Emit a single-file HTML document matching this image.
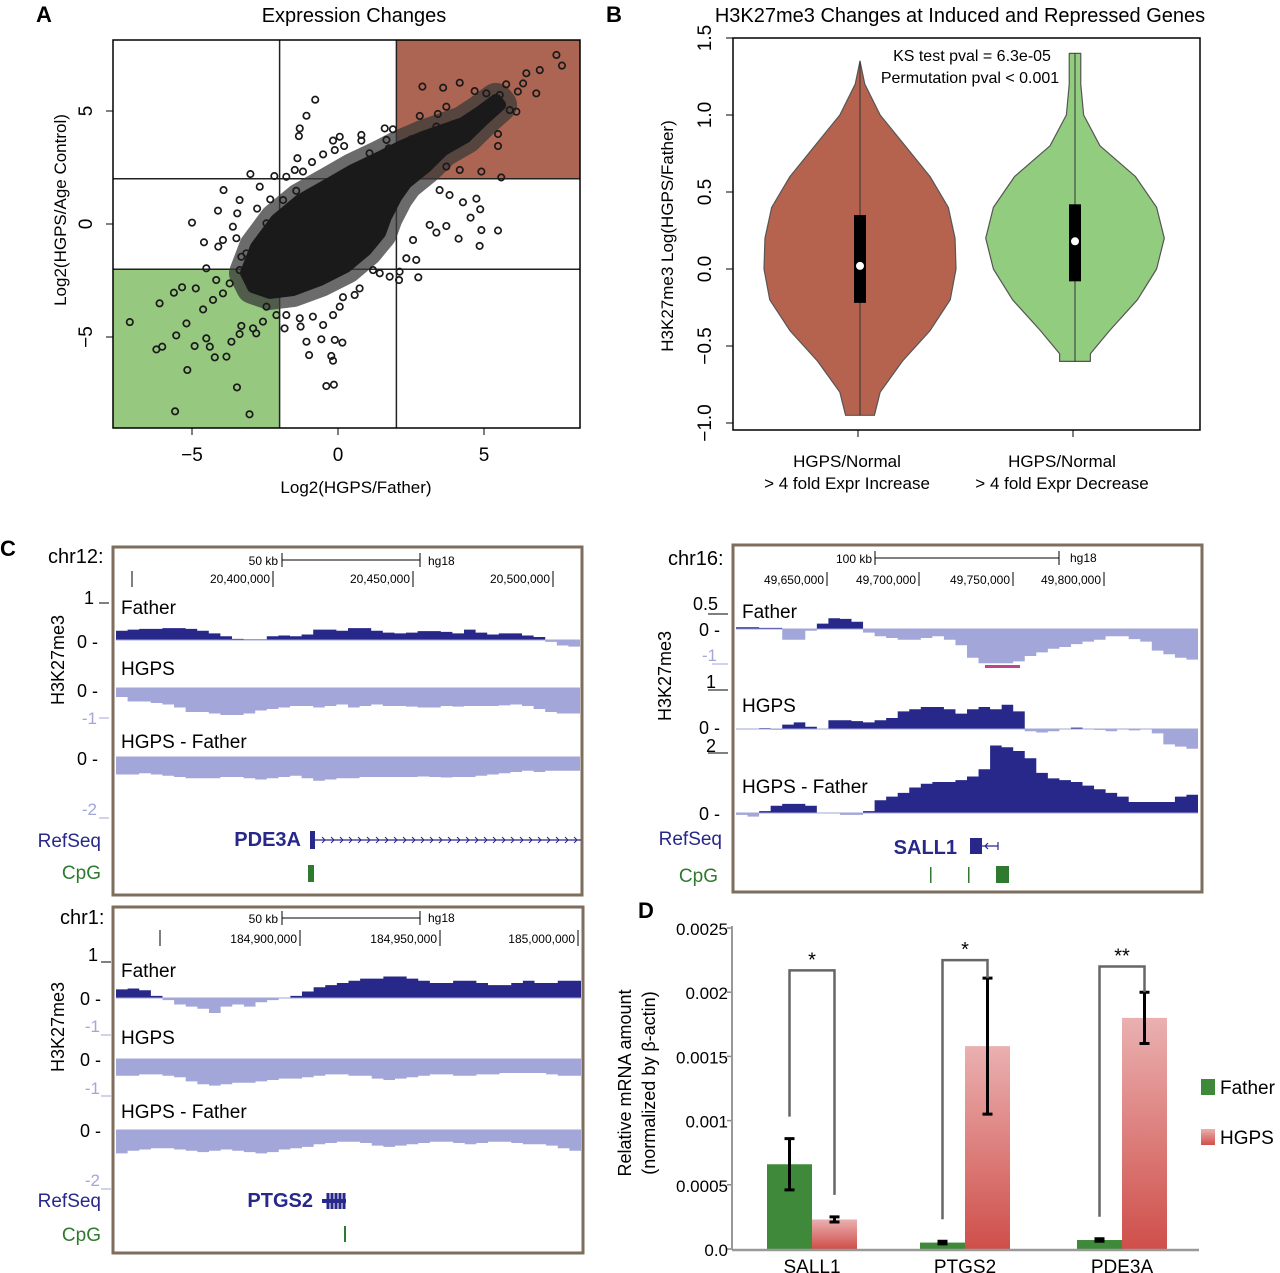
<!DOCTYPE html>
<html><head><meta charset="utf-8"><style>
html,body{margin:0;padding:0;background:#fff}
svg{display:block;font-family:"Liberation Sans",Arial,sans-serif}
</style></head><body>
<svg id="fig" width="1280" height="1273" viewBox="0 0 1280 1273" xmlns="http://www.w3.org/2000/svg">
<g id="gA"></g>
<g id="gB"></g>
<g id="gC"></g>
<g id="gD"></g>
</svg>
<script>
// ---------- Panel A data ----------
const scatterX=[-5.00,-4.59,-4.10,-4.11,-3.92,-3.37,-3.45,-3.60,-3.48,-3.31,-3.94,-3.00,-2.77,-2.68,-2.18,-2.32,-1.88,-1.77,-1.48,-1.20,-1.39,-1.31,-1.34,-1.08,-0.78,-0.89,-0.51,-0.17,0.06,0.21,-0.11,0.80,0.80,1.08,1.60,1.88,1.66,1.74,-1.43,-0.86,-0.40,0.29,2.80,3.42,3.37,3.71,4.17,3.60,2.89,2.51,2.11,3.71,4.17,4.91,5.48,5.48,5.59,5.76,6.16,6.11,5.88,6.45,6.91,6.79,6.34,7.48,7.67,5.08,4.68,5.54,3.48,3.82,4.28,4.74,4.87,4.54,4.91,5.48,4.85,4.13,3.37,3.71,3.14,2.57,2.68,2.34,2.09,2.75,2.11,1.77,1.43,1.20,0.74,0.57,0.17,0.06,-0.17,-0.51,-0.86,-1.08,-0.57,-0.11,0.15,-0.99,-0.23,-0.17,-0.40,-0.14,-1.31,-1.28,-1.83,-1.77,-2.11,-2.45,-2.57,-2.80,-2.91,-3.31,-3.37,-3.65,-3.82,-4.22,-4.39,-4.51,-4.91,-5.19,-5.54,-6.11,-5.62,-5.34,-4.87,-6.22,-6.02,-7.13,-5.16,-3.46,-5.58,-3.03,-4.62,-4.28,-3.94,-3.71,-4.17,-4.51,-3.37,-3.14,-2.68,-2.45];
const scatterY=[0.06,-0.81,-1.00,0.59,1.50,1.06,0.47,-0.12,-0.63,-1.45,-0.71,2.21,0.68,1.65,2.12,1.09,1.06,2.09,2.39,2.32,2.91,4.23,3.89,4.79,5.50,2.74,3.08,3.69,3.86,3.45,3.27,3.94,3.69,3.13,4.23,4.19,3.72,3.35,1.47,1.43,1.65,1.80,4.78,4.87,4.31,5.19,6.25,6.03,6.08,3.75,3.27,2.54,2.39,2.32,3.98,3.45,2.06,6.18,5.86,4.97,5.04,6.67,6.81,5.78,6.22,7.48,7.01,5.78,5.88,5.71,1.50,1.28,0.96,1.12,0.65,0.28,-0.27,-0.29,-0.97,-0.65,-0.38,-0.09,-0.04,-0.71,-1.59,-1.52,-2.48,-2.36,-2.11,-2.33,-2.18,-2.04,-2.85,-3.14,-3.24,-3.66,-4.03,-4.47,-4.10,-5.21,-5.10,-5.13,-5.25,-5.80,-5.84,-6.05,-7.17,-7.11,-4.17,-4.54,-4.62,-4.03,-4.03,-3.66,-4.32,-4.84,-4.62,-4.51,-4.87,-5.21,-5.87,-5.90,-5.43,-5.06,-5.40,-4.40,-4.93,-3.51,-3.04,-2.80,-2.85,-5.55,-5.43,-4.34,-6.46,-7.23,-8.29,-8.42,-3.78,-3.36,-3.07,-2.63,-2.48,-1.96,-2.04,-1.30,-0.71,0.03];
const blobX=[-3.15,-2.81,-2.12,-1.30,-0.27,0.51,1.44,2.12,2.91,3.60,4.28,4.86,5.41,5.55,4.97,4.38,3.60,3.01,2.33,1.99,1.64,1.44,0.96,0.27,-0.62,-1.54,-2.33,-2.91];
const blobY=[-2.17,-1.02,0.18,1.06,1.81,2.39,2.96,3.41,3.85,4.16,4.47,4.96,5.49,5.27,4.60,3.85,3.27,2.52,1.81,1.19,0.31,-0.40,-1.15,-1.90,-2.48,-2.92,-3.05,-2.79];
const aTicksX=[-5,0,5];
const aTicksY=[-5,0,5];
// ---------- Panel B data ----------
const violinLevels=[[1.35,1.2,1.0,0.8,0.6,0.4,0.2,0.0,-0.2,-0.4,-0.6,-0.8,-0.95],[1.4,1.35,1.2,1.0,0.8,0.6,0.4,0.2,0.0,-0.2,-0.4,-0.55,-0.6]];
const violinDens=[[0.0,0.05,0.21,0.47,0.73,0.92,0.99,1.0,0.94,0.73,0.44,0.21,0.15],[0.06,0.06,0.06,0.09,0.26,0.63,0.85,0.93,0.85,0.65,0.36,0.16,0.16]];
const boxQ1=[-0.22,-0.08], boxQ3=[0.35,0.42], boxMed=[0.02,0.18];
const bTicks=[-1.0,-0.5,0.0,0.5,1.0,1.5];
const bCats=["HGPS/Normal|> 4 fold Expr Increase","HGPS/Normal|> 4 fold Expr Decrease"];
// ---------- Panel C data ----------
const c1Father=[0.25,0.28,0.3,0.3,0.32,0.32,0.3,0.25,0.18,0.1,0.03,0.02,0.02,0.1,0.12,0.1,0.15,0.28,0.28,0.25,0.32,0.32,0.25,0.2,0.18,0.2,0.24,0.24,0.22,0.18,0.28,0.2,0.15,0.18,0.18,0.12,0.08,-0.05,-0.15,-0.18];
const c1Hgps=[-0.3,-0.45,-0.45,-0.5,-0.55,-0.65,-0.8,-0.8,-0.85,-0.9,-0.9,-0.85,-0.75,-0.7,-0.65,-0.6,-0.6,-0.65,-0.6,-0.55,-0.65,-0.6,-0.55,-0.6,-0.6,-0.62,-0.65,-0.65,-0.6,-0.62,-0.6,-0.6,-0.6,-0.58,-0.55,-0.6,-0.7,-0.8,-0.85,-0.85];
const c1Diff=[-0.7,-0.7,-0.65,-0.7,-0.75,-0.8,-0.85,-0.85,-0.85,-0.8,-0.8,-0.85,-0.9,-0.85,-0.8,-0.75,-0.85,-0.95,-0.9,-0.85,-0.85,-0.8,-0.8,-0.8,-0.8,-0.8,-0.78,-0.8,-0.82,-0.8,-0.8,-0.75,-0.7,-0.65,-0.6,-0.55,-0.6,-0.55,-0.55,-0.55];
const c2Father=[0.05,0.05,0.03,0.03,-0.3,-0.3,-0.05,0.15,0.3,0.28,0.2,-0.1,-0.2,-0.25,-0.3,-0.3,-0.25,-0.2,-0.3,-0.45,-0.8,-0.95,-0.95,-0.95,-0.9,-0.75,-0.65,-0.55,-0.5,-0.42,-0.35,-0.3,-0.2,-0.2,-0.28,-0.35,-0.6,-0.7,-0.8,-0.85];
const c2Hgps=[0,0,0.02,-0.02,0.1,0.15,0.05,0,0.2,0.2,0.18,0.15,0.2,0.25,0.4,0.45,0.5,0.5,0.45,0.35,0.45,0.5,0.45,0.55,0.4,-0.05,-0.08,-0.05,0,0.03,0,-0.02,-0.05,0,-0.03,0,-0.1,-0.35,-0.4,-0.45];
const c2Diff=[-0.05,-0.1,0.05,0.2,0.25,0.25,0.2,0,0,-0.05,-0.05,0.05,0.35,0.45,0.55,0.7,0.8,0.85,0.85,0.9,1.0,1.2,1.85,1.8,1.7,1.5,1.1,0.95,0.9,0.85,0.75,0.65,0.55,0.45,0.3,0.3,0.3,0.3,0.45,0.5];
const c3Father=[0.2,0.22,0.18,0.05,-0.05,-0.15,-0.2,-0.25,-0.35,-0.2,-0.15,-0.2,-0.1,-0.05,0,0.05,0.15,0.25,0.3,0.35,0.4,0.45,0.45,0.5,0.5,0.45,0.4,0.35,0.35,0.4,0.4,0.35,0.3,0.3,0.35,0.4,0.35,0.35,0.4,0.4];
const c3Hgps=[-0.6,-0.6,-0.55,-0.55,-0.6,-0.65,-0.8,-0.9,-0.95,-0.9,-0.85,-0.85,-0.8,-0.75,-0.7,-0.7,-0.65,-0.6,-0.55,-0.55,-0.6,-0.6,-0.7,-0.75,-0.7,-0.65,-0.6,-0.55,-0.55,-0.6,-0.6,-0.55,-0.55,-0.5,-0.5,-0.5,-0.5,-0.55,-0.6,-0.6];
const c3Diff=[-0.9,-0.8,-0.75,-0.7,-0.7,-0.75,-0.8,-0.85,-0.8,-0.75,-0.8,-0.85,-0.9,-0.85,-0.75,-0.7,-0.65,-0.55,-0.5,-0.45,-0.45,-0.5,-0.6,-0.65,-0.6,-0.55,-0.5,-0.45,-0.45,-0.5,-0.55,-0.5,-0.45,-0.45,-0.5,-0.55,-0.55,-0.6,-0.7,-0.8];
// ---------- Panel D data ----------
const dGenes=["SALL1","PTGS2","PDE3A"];
const dFather=[0.00066,0.00005,0.00007];
const dFatherErr=[0.0002,0.00001,0.00001];
const dHgps=[0.00023,0.00158,0.0018];
const dHgpsErr=[0.00002,0.00053,0.0002];
const dBracketTop=[0.00217,0.00225,0.0022];
const dStars=["*","*","**"];
const dTicks=[0,0.0005,0.001,0.0015,0.002,0.0025];
const dTickLabels=["0.0","0.0005","0.001","0.0015","0.002","0.0025"];

const NS="http://www.w3.org/2000/svg";
function mk(parent,tag,attrs,name,inter,text){
  const e=document.createElementNS(NS,tag);
  for(const k in attrs)e.setAttribute(k,attrs[k]);
  
  
  if(text!==undefined)e.textContent=text;
  parent.appendChild(e);return e;
}
const gA=document.getElementById('gA'),gB=document.getElementById('gB'),gC=document.getElementById('gC'),gD=document.getElementById('gD');

// ===== Panel A =====
(function(){
  const L=113,R=580,T=40,B=428;
  const ax=v=>338+v*29.2, ay=v=>224-v*22.6;
  mk(gA,'text',{x:36,y:22,'font-size':22,'font-weight':'bold'},'panel-label-a',false,'A');
  mk(gA,'text',{x:354,y:22,'font-size':20,'text-anchor':'middle'},'chart-title-a',false,'Expression Changes');
  mk(gA,'rect',{x:ax(2),y:T,width:R-ax(2),height:ay(2)-T,fill:'#ac6552'},'induced-region',false);
  mk(gA,'rect',{x:L,y:ay(-2),width:ax(-2)-L,height:B-ay(-2),fill:'#96c880'},'repressed-region',false);
  [ -2,2].forEach(v=>{
    mk(gA,'line',{x1:ax(v),y1:T,x2:ax(v),y2:B,stroke:'#222','stroke-width':1.5},'threshold-vline',false);
    mk(gA,'line',{x1:L,y1:ay(v),x2:R,y2:ay(v),stroke:'#222','stroke-width':1.5},'threshold-hline',false);
  });
  let pts=blobX.map((x,i)=>ax(x)+','+ay(blobY[i])).join(' ');
  mk(gA,'polygon',{points:pts,fill:'#3a3a3a',stroke:'#3a3a3a','stroke-width':34,'stroke-linejoin':'round','stroke-opacity':0.75},'point-cloud-halo',false);
  mk(gA,'polygon',{points:pts,fill:'#1a1a1a',stroke:'#1a1a1a','stroke-width':12,'stroke-linejoin':'round'},'dense-point-cloud',false);
  scatterX.forEach((x,i)=>{
    mk(gA,'circle',{cx:ax(x),cy:ay(scatterY[i]),r:3.2,fill:'none',stroke:'#1a1a1a','stroke-width':1.7},'scatter-point',false);
  });
  mk(gA,'rect',{x:L,y:T,width:R-L,height:B-T,fill:'none',stroke:'#000','stroke-width':1.5},'plot-frame-a',false);
  aTicksX.forEach(v=>{
    mk(gA,'line',{x1:ax(v),y1:B,x2:ax(v),y2:B+7,stroke:'#000'},'x-tick',false);
    mk(gA,'text',{x:ax(v),y:B+33,'font-size':19,'text-anchor':'middle'},'x-tick-label',false,v<0?'\u2212'+(-v):String(v));
  });
  aTicksY.forEach(v=>{
    mk(gA,'line',{x1:L-7,y1:ay(v),x2:L,y2:ay(v),stroke:'#000'},'y-tick',false);
    mk(gA,'text',{x:92,y:ay(v),'font-size':19,'text-anchor':'middle',transform:`rotate(-90 92 ${ay(v)})`},'y-tick-label',false,v<0?'\u2212'+(-v):String(v));
  });
  mk(gA,'text',{x:356,y:493,'font-size':17,'text-anchor':'middle'},'x-axis-title-a',false,'Log2(HGPS/Father)');
  mk(gA,'text',{x:66,y:210,'font-size':17,'text-anchor':'middle',transform:'rotate(-90 66 210)'},'y-axis-title-a',false,'Log2(HGPS/Age Control)');
})();

// ===== Panel B =====
(function(){
  const L=733,R=1200,T=38,B=430;
  const by=v=>269-v*154;
  const cx=[860,1075], cols=['#b5634f','#92cc7f'], W=96;
  mk(gB,'text',{x:606,y:22,'font-size':22,'font-weight':'bold'},'panel-label-b',false,'B');
  mk(gB,'text',{x:960,y:22,'font-size':20,'text-anchor':'middle'},'chart-title-b',false,'H3K27me3 Changes at Induced and Repressed Genes');
  [0,1].forEach(k=>{
    const lv=violinLevels[k],d=violinDens[k];
    let right=lv.map((y,i)=>(cx[k]+d[i]*W)+','+by(y));
    let left=lv.slice().reverse().map((y,i)=>(cx[k]-d[lv.length-1-i]*W)+','+by(y));
    mk(gB,'polygon',{points:right.concat(left).join(' '),fill:cols[k],stroke:'#555','stroke-width':1.2,'stroke-linejoin':'round'},'violin-'+(k?'decrease':'increase'),false);
    mk(gB,'line',{x1:cx[k],y1:by(lv[0]),x2:cx[k],y2:by(lv[lv.length-1]),stroke:'#333','stroke-width':1},'violin-whisker',false);
    mk(gB,'rect',{x:cx[k]-6,y:by(boxQ3[k]),width:12,height:by(boxQ1[k])-by(boxQ3[k]),fill:'#000'},'violin-box',false);
    mk(gB,'circle',{cx:cx[k],cy:by(boxMed[k]),r:4,fill:'#fff'},'violin-median',false);
    const parts=bCats[k].split('|');
    mk(gB,'line',{x1:cx[k]-2,y1:B,x2:cx[k]-2,y2:B+7,stroke:'#000'},'x-tick',false);
    mk(gB,'text',{x:cx[k]-13,y:467,'font-size':17,'text-anchor':'middle'},'x-category-label',false,parts[0]);
    mk(gB,'text',{x:cx[k]-13,y:489,'font-size':17,'text-anchor':'middle'},'x-category-label',false,parts[1]);
  });
  mk(gB,'rect',{x:L,y:T,width:R-L,height:B-T,fill:'none',stroke:'#000','stroke-width':1.5},'plot-frame-b',false);
  bTicks.forEach(v=>{
    mk(gB,'line',{x1:L-7,y1:by(v),x2:L,y2:by(v),stroke:'#000'},'y-tick',false);
    const s=(v<0?'\u2212':'')+Math.abs(v).toFixed(1);
    mk(gB,'text',{x:711,y:by(v),'font-size':19,'text-anchor':'middle',transform:`rotate(-90 711 ${by(v)})`},'y-tick-label',false,s);
  });
  mk(gB,'text',{x:673,y:236,'font-size':17,'text-anchor':'middle',transform:'rotate(-90 673 236)'},'y-axis-title-b',false,'H3K27me3 Log(HGPS/Father)');
  mk(gB,'text',{x:972,y:61,'font-size':16,'text-anchor':'middle'},'ks-test-annotation',false,'KS test pval = 6.3e-05');
  mk(gB,'text',{x:970,y:83,'font-size':16,'text-anchor':'middle'},'permutation-annotation',false,'Permutation pval  < 0.001');
})();

// ===== Panel C =====
const NAVY='#27288a', LIGHT='#a3a6d8', GREEN='#2f7a2f';
function track(g,x0,x1,base,ppu,vals,name){
  const w=(x1-x0)/vals.length;
  let pos=[`${x0},${base}`],neg=[`${x0},${base}`];
  vals.forEach((v,i)=>{
    const a=x0+i*w,b=a+w;
    const p=Math.max(v,0),n=Math.min(v,0);
    pos.push(`${a},${base-p*ppu}`,`${b},${base-p*ppu}`);
    neg.push(`${a},${base-n*ppu}`,`${b},${base-n*ppu}`);
  });
  pos.push(`${x1},${base}`);neg.push(`${x1},${base}`);
  mk(g,'polygon',{points:neg.join(' '),fill:LIGHT},name+'-negative',false);
  mk(g,'polygon',{points:pos.join(' '),fill:NAVY},name+'-positive',false);
  mk(g,'line',{x1:x0,y1:base,x2:x1,y2:base,stroke:LIGHT,'stroke-width':1},name+'-baseline',false);
}
function txt(g,x,y,s,size,name,anchor,fill,weight){
  return mk(g,'text',{x:x,y:y,'font-size':size,'text-anchor':anchor||'start',fill:fill||'#000','font-weight':weight||'normal'},name,false,s);
}
(function(){
  const g=gC;
  txt(g,0,556,'C',22,'panel-label-c','start','#000','bold');
  // ---- Box 1 chr12 ----
  mk(g,'rect',{x:113,y:547,width:469,height:348,fill:'none',stroke:'#7d6e5e','stroke-width':3},'browser-frame-chr12',false);
  txt(g,48,563,'chr12:',20,'chromosome-label');
  txt(g,278,565,'50 kb',12,'scale-label','end');
  mk(g,'path',{d:'M282 560H420M282 553V567M420 553V567',stroke:'#000',fill:'none'},'scale-bar',false);
  txt(g,428,565,'hg18',12,'assembly-label');
  [[132,''],[273,'20,400,000'],[413,'20,450,000'],[553,'20,500,000']].forEach(t=>{
    mk(g,'line',{x1:t[0],y1:571,x2:t[0],y2:587,stroke:'#000'},'position-tick',false);
    if(t[1])txt(g,t[0]-3,583,t[1],12,'position-label','end');
  });
  track(g,116,580,640,37,c1Father,'father-track-chr12');
  track(g,116,580,688,30,c1Hgps,'hgps-track-chr12');
  track(g,116,580,757,25,c1Diff,'diff-track-chr12');
  txt(g,121,614,'Father',19,'track-label');txt(g,121,675,'HGPS',19,'track-label');txt(g,121,748,'HGPS - Father',19,'track-label');
  txt(g,94,604,'1',18,'axis-value','end');mk(g,'line',{x1:99,y1:603,x2:109,y2:603,stroke:'#000'},'axis-tick',false);
  txt(g,98,648,'0 -',18,'axis-value','end');txt(g,98,697,'0 -',18,'axis-value','end');
  txt(g,97,724,'-1',17,'axis-value','end',LIGHT);mk(g,'line',{x1:99,y1:718,x2:109,y2:718,stroke:LIGHT},'axis-tick',false);
  txt(g,98,765,'0 -',18,'axis-value','end');
  txt(g,97,815,'-2',17,'axis-value','end',LIGHT);mk(g,'line',{x1:99,y1:818,x2:109,y2:818,stroke:LIGHT},'axis-tick',false);
  mk(g,'text',{x:64,y:660,'font-size':18,'text-anchor':'middle',transform:'rotate(-90 64 660)'},'y-axis-title-chr12',false,'H3K27me3');
  txt(g,101,847,'RefSeq',19,'refseq-label','end',NAVY);txt(g,101,879,'CpG',19,'cpg-label','end',GREEN);
  txt(g,301,846,'PDE3A',20,'gene-label-pde3a','end',NAVY,'bold');
  mk(g,'rect',{x:310,y:831,width:5,height:18,fill:NAVY},'gene-exon',false);
  mk(g,'line',{x1:315,y1:840,x2:581,y2:840,stroke:NAVY,'stroke-width':1.2},'gene-intron-line',false);
  let arr='';for(let x=322;x<575;x+=9)arr+=`M${x} 837L${x+3} 840L${x} 843`;
  mk(g,'path',{d:arr,stroke:NAVY,fill:'none','stroke-width':1},'strand-arrows',false);
  mk(g,'rect',{x:308,y:865,width:6,height:17,fill:GREEN},'cpg-island',false);

  // ---- Box 2 chr16 ----
  mk(g,'rect',{x:733,y:545,width:469,height:347,fill:'none',stroke:'#7d6e5e','stroke-width':3},'browser-frame-chr16',false);
  txt(g,668,565,'chr16:',20,'chromosome-label');
  txt(g,872,563,'100 kb',12,'scale-label','end');
  mk(g,'path',{d:'M875 558H1059M875 551V565M1059 551V565',stroke:'#000',fill:'none'},'scale-bar',false);
  txt(g,1070,562,'hg18',12,'assembly-label');
  [[827,'49,650,000'],[919,'49,700,000'],[1013,'49,750,000'],[1104,'49,800,000']].forEach(t=>{
    mk(g,'line',{x1:t[0],y1:572,x2:t[0],y2:586,stroke:'#000'},'position-tick',false);
    txt(g,t[0]-3,584,t[1],12,'position-label','end');
  });
  track(g,736,1198,629,36,c2Father,'father-track-chr16');
  mk(g,'rect',{x:985,y:665,width:35,height:3,fill:'#c0448a'},'highlight-mark',false);
  track(g,736,1198,729,44,c2Hgps,'hgps-track-chr16');
  track(g,736,1198,813,36.5,c2Diff,'diff-track-chr16');
  txt(g,742,618,'Father',19,'track-label');txt(g,742,712,'HGPS',19,'track-label');txt(g,742,793,'HGPS - Father',19,'track-label');
  txt(g,718,610,'0.5',18,'axis-value','end');mk(g,'line',{x1:708,y1:614,x2:728,y2:614,stroke:'#000'},'axis-tick',false);
  txt(g,720,636,'0 -',18,'axis-value','end');
  txt(g,717,661,'-1',17,'axis-value','end',LIGHT);mk(g,'line',{x1:712,y1:664,x2:728,y2:664,stroke:LIGHT},'axis-tick',false);
  txt(g,716,688,'1',18,'axis-value','end');mk(g,'line',{x1:708,y1:690,x2:728,y2:690,stroke:'#000'},'axis-tick',false);
  txt(g,720,734,'0 -',18,'axis-value','end');
  txt(g,716,752,'2',18,'axis-value','end');mk(g,'line',{x1:708,y1:753,x2:728,y2:753,stroke:'#000'},'axis-tick',false);
  txt(g,720,820,'0 -',18,'axis-value','end');
  mk(g,'text',{x:671,y:676,'font-size':18,'text-anchor':'middle',transform:'rotate(-90 671 676)'},'y-axis-title-chr16',false,'H3K27me3');
  txt(g,722,845,'RefSeq',19,'refseq-label','end',NAVY);txt(g,718,882,'CpG',19,'cpg-label','end',GREEN);
  txt(g,957,854,'SALL1',20,'gene-label-sall1','end',NAVY,'bold');
  mk(g,'rect',{x:970,y:838,width:12,height:16,fill:NAVY},'gene-exon',false);
  mk(g,'path',{d:'M982 846H998M998 842V850M988 843L985 846L988 849',stroke:NAVY,fill:'none','stroke-width':1.2},'gene-line',false);
  mk(g,'rect',{x:930,y:867,width:1.5,height:16,fill:GREEN},'cpg-island',false);
  mk(g,'rect',{x:968,y:867,width:1.5,height:16,fill:GREEN},'cpg-island',false);
  mk(g,'rect',{x:996,y:866,width:13,height:17,fill:GREEN},'cpg-island',false);

  // ---- Box 3 chr1 ----
  mk(g,'rect',{x:113,y:907,width:470,height:346,fill:'none',stroke:'#7d6e5e','stroke-width':3},'browser-frame-chr1',false);
  txt(g,60,924,'chr1:',20,'chromosome-label');
  txt(g,278,923,'50 kb',12,'scale-label','end');
  mk(g,'path',{d:'M282 918H420M282 911V925M420 911V925',stroke:'#000',fill:'none'},'scale-bar',false);
  txt(g,428,922,'hg18',12,'assembly-label');
  [[160,''],[300,'184,900,000'],[440,'184,950,000'],[578,'185,000,000']].forEach(t=>{
    mk(g,'line',{x1:t[0],y1:930,x2:t[0],y2:946,stroke:'#000'},'position-tick',false);
    if(t[1])txt(g,t[0]-3,943,t[1],12,'position-label','end');
  });
  track(g,116,581,998,43,c3Father,'father-track-chr1');
  track(g,116,581,1059,28,c3Hgps,'hgps-track-chr1');
  track(g,116,581,1130,26,c3Diff,'diff-track-chr1');
  txt(g,121,977,'Father',19,'track-label');txt(g,121,1044,'HGPS',19,'track-label');txt(g,121,1118,'HGPS - Father',19,'track-label');
  txt(g,98,961,'1',18,'axis-value','end');mk(g,'line',{x1:101,y1:962,x2:111,y2:962,stroke:'#000'},'axis-tick',false);
  txt(g,101,1005,'0 -',18,'axis-value','end');
  txt(g,100,1032,'-1',17,'axis-value','end',LIGHT);mk(g,'line',{x1:101,y1:1035,x2:111,y2:1035,stroke:LIGHT},'axis-tick',false);
  txt(g,101,1066,'0 -',18,'axis-value','end');
  txt(g,100,1094,'-1',17,'axis-value','end',LIGHT);mk(g,'line',{x1:101,y1:1096,x2:111,y2:1096,stroke:LIGHT},'axis-tick',false);
  txt(g,101,1137,'0 -',18,'axis-value','end');
  txt(g,100,1186,'-2',17,'axis-value','end',LIGHT);mk(g,'line',{x1:101,y1:1189,x2:111,y2:1189,stroke:LIGHT},'axis-tick',false);
  mk(g,'text',{x:64,y:1027,'font-size':18,'text-anchor':'middle',transform:'rotate(-90 64 1027)'},'y-axis-title-chr1',false,'H3K27me3');
  txt(g,101,1207,'RefSeq',19,'refseq-label','end',NAVY);txt(g,101,1241,'CpG',19,'cpg-label','end',GREEN);
  txt(g,313,1207,'PTGS2',20,'gene-label-ptgs2','end',NAVY,'bold');
  mk(g,'rect',{x:322,y:1199,width:24,height:4,fill:NAVY},'gene-body',false);
  mk(g,'path',{d:'M328 1193V1209M332 1193V1209M336 1193V1209M340 1193V1209M344 1193V1209',stroke:NAVY,'stroke-width':3},'gene-exons',false);
  mk(g,'rect',{x:344,y:1226,width:2,height:16,fill:GREEN},'cpg-island',false);
})();

// ===== Panel D =====
(function(){
  const g=gD, AX=732, X1=1199;
  const dy=v=>1249-v*128400;
  const fx=[767,920,1077], bw=45;
  txt(g,638,918,'D',22,'panel-label-d','start','#000','bold');
  const defs=mk(g,'defs',{},'gradients',false);
  const gr=mk(defs,'linearGradient',{id:'pinkGrad',x1:0,y1:0,x2:0,y2:1},'hgps-gradient',false);
  mk(gr,'stop',{offset:'0','stop-color':'#eab0b0'},'grad-stop',false);
  mk(gr,'stop',{offset:'1','stop-color':'#cf4f4a'},'grad-stop',false);
  dTicks.forEach((v,i)=>{
    mk(g,'line',{x1:AX-5,y1:dy(v),x2:AX,y2:dy(v),stroke:'#888','stroke-width':1.5},'y-tick',false);
    txt(g,AX-4,dy(v)+7,dTickLabels[i],17,'y-tick-label','end');
  });
  mk(g,'line',{x1:AX,y1:dy(0.0025)-2,x2:AX,y2:1250,stroke:'#999','stroke-width':2},'y-axis-line',false);
  dGenes.forEach((gn,i)=>{
    const x0=fx[i];
    mk(g,'rect',{x:x0,y:dy(dFather[i]),width:bw,height:dy(0)-dy(dFather[i]),fill:'#3f8a3a'},'bar-father-'+gn.toLowerCase(),false);
    mk(g,'rect',{x:x0+bw,y:dy(dHgps[i]),width:bw,height:dy(0)-dy(dHgps[i]),fill:'url(#pinkGrad)'},'bar-hgps-'+gn.toLowerCase(),false);
    [[x0+bw/2,dFather[i],dFatherErr[i]],[x0+bw*1.5,dHgps[i],dHgpsErr[i]]].forEach(e=>{
      const t=dy(e[1]+e[2]),b=dy(e[1]-e[2]);
      mk(g,'path',{d:`M${e[0]} ${t}V${b}M${e[0]-5} ${t}H${e[0]+5}M${e[0]-5} ${b}H${e[0]+5}`,stroke:'#000','stroke-width':3,fill:'none'},'error-bar',false);
    });
    const lx=x0+bw/2, rx=x0+bw*1.5;
    const top=dy(dBracketTop[i]);
    const ly0=dy(dFather[i]+dFatherErr[i])-22, ry0=dy(dHgps[i]+dHgpsErr[i])-(i===0?22:0);
    mk(g,'path',{d:`M${lx} ${ly0}V${top}H${rx}V${ry0}`,stroke:'#666','stroke-width':2.5,fill:'none'},'significance-bracket',false);
    txt(g,(lx+rx)/2,top-4,dStars[i],20,'significance-stars','middle');
    txt(g,x0+bw,1273,gn,19,'x-category-label','middle');
  });
  mk(g,'line',{x1:AX,y1:1250,x2:X1,y2:1250,stroke:'#999','stroke-width':2.5},'x-axis-line',false);
  mk(g,'text',{x:631,y:1083,'font-size':18,'text-anchor':'middle',transform:'rotate(-90 631 1083)'},'y-axis-title-d',false,'Relative mRNA amount');
  mk(g,'text',{x:655,y:1083,'font-size':18,'text-anchor':'middle',transform:'rotate(-90 655 1083)'},'y-axis-subtitle-d',false,'(normalized by \u03b2-actin)');
  mk(g,'rect',{x:1201,y:1079,width:14,height:16,fill:'#3f8a3a'},'legend-swatch-father',false);
  txt(g,1220,1094,'Father',19,'legend-label-father');
  mk(g,'rect',{x:1201,y:1129,width:14,height:16,fill:'url(#pinkGrad)'},'legend-swatch-hgps',false);
  txt(g,1220,1144,'HGPS',19,'legend-label-hgps');
})();
</script>
</body></html>
